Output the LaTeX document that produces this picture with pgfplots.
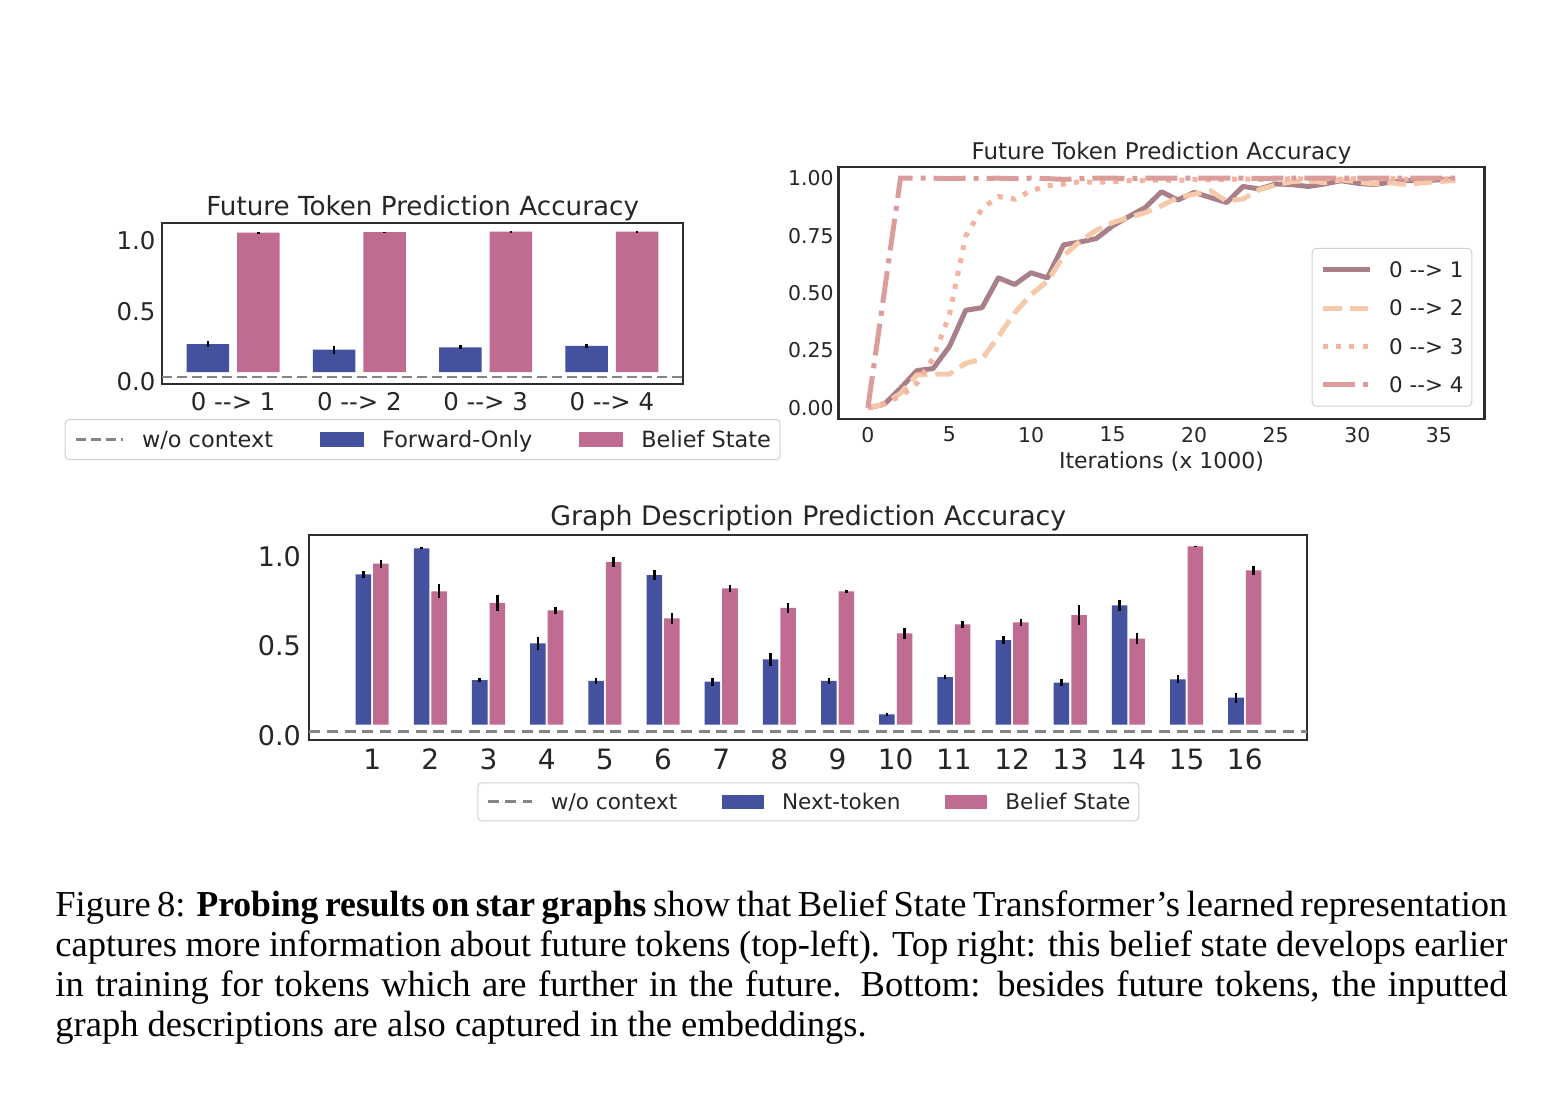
\documentclass[border=0pt]{standalone}
\usepackage{fontspec}
\setmainfont{DejaVu Sans}
\newfontfamily\capfont[BoldFeatures={FakeStretch=0.975}]{Liberation Serif}
\usepackage{pgfplots}
\usepackage{pgfplotstable}
\pgfplotsset{compat=1.18}

\definecolor{textc}{HTML}{262626}
\definecolor{framec}{HTML}{2E2E2E}
\definecolor{legc}{HTML}{D0D0D0}
\definecolor{ntblue}{HTML}{43519E}
\definecolor{bspink}{HTML}{C06B92}
\definecolor{ctxgray}{HTML}{858585}
\definecolor{lineA}{HTML}{A97F88}
\definecolor{lineB}{HTML}{F7C9AB}
\definecolor{lineC}{HTML}{F5B4A0}
\definecolor{lineD}{HTML}{DB9C9C}

% future-token probing, top left
\pgfplotstableread{
x   fo     foErr  bs     bsErr
0   0.199  0.024  0.991  0.003
1   0.159  0.028  0.996  0.002
2   0.176  0.013  0.999  0.003
3   0.187  0.016  0.999  0.003
}\futuretab

% accuracy over training, top right
\pgfplotstableread{
it  a      b      c      d
0   0.000  0.000  0.000  0.000
1   0.015  0.016  0.020  0.500
2   0.085  0.063  0.050  1.000
3   0.162  0.143  0.106  1.000
4   0.171  0.147  0.216  1.000
5   0.267  0.147  0.406  0.998
6   0.425  0.194  0.748  1.000
7   0.436  0.212  0.868  0.999
8   0.566  0.311  0.920  1.000
9   0.537  0.413  0.909  0.998
10  0.588  0.493  0.945  1.000
11  0.566  0.551  0.967  0.998
12  0.710  0.661  0.974  0.995
13  0.722  0.726  0.985  0.998
14  0.737  0.773  0.982  1.000
15  0.792  0.807  0.985  1.000
16  0.833  0.829  0.989  0.999
17  0.872  0.850  0.990  1.000
18  0.941  0.880  0.992  1.000
19  0.905  0.916  0.990  1.000
20  0.938  0.930  0.995  1.000
21  0.916  0.945  0.993  1.000
22  0.894  0.900  0.995  1.000
23  0.964  0.910  0.997  1.000
24  0.953  0.950  0.995  0.999
25  0.975  0.970  0.996  1.000
26  0.972  0.985  0.998  1.000
27  0.964  0.990  0.997  1.000
28  0.975  0.980  0.998  1.000
29  0.989  0.993  0.996  1.000
30  0.978  0.985  0.998  1.000
31  0.972  0.975  0.997  1.000
32  0.982  0.980  0.998  1.000
33  0.989  0.972  0.996  1.000
34  0.989  0.980  0.998  1.000
35  0.993  0.985  0.997  1.000
36  0.996  0.990  0.997  1.000
}\itertab

% graph description probing, bottom
\pgfplotstableread{
x   nt     ntErr  bs     bsErr
1   0.842  0.021  0.902  0.022
2   0.988  0.005  0.747  0.039
3   0.250  0.012  0.682  0.045
4   0.456  0.035  0.641  0.019
5   0.245  0.017  0.911  0.026
6   0.838  0.028  0.596  0.031
7   0.241  0.023  0.764  0.021
8   0.366  0.035  0.655  0.028
9   0.246  0.017  0.747  0.010
10  0.058  0.009  0.512  0.031
11  0.267  0.012  0.562  0.021
12  0.474  0.021  0.573  0.022
13  0.235  0.020  0.614  0.058
14  0.669  0.031  0.482  0.032
15  0.254  0.022  1.000  0.003
16  0.151  0.027  0.865  0.024
}\graphtab

\pgfplotsset{
  sbaxis/.style={
    scale only axis,
    axis line style={draw=framec, line width=1.1pt},
    major tick length=0pt,
    tick style={draw=none},
    clip=false,
  },
  errstyle/.style={
    error bars/.cd, y dir=both, y explicit,
    error mark=none,
    error bar style={black, line width=1.25pt},
  },
  legline/.style={legend image code/.code={\draw[##1, sharp corners] (0pt,0pt) -- (#1,0pt);}},
  legpatch/.style 2 args={legend image code/.code={\fill[##1, draw=none, sharp corners] (0pt,-#2) rectangle (#1,#2);}},
}

\newcommand{\arr}[2]{#1 -{}-> #2}

\begin{document}
\begin{tikzpicture}
\fill[white] (0,0) rectangle (782pt,-549pt);
\path[use as bounding box] (0,0) rectangle (782pt,-549pt);

% ---------- top left: future tokens, forward-only vs belief state ----------
\begin{axis}[sbaxis,
  at={(81.15pt,-192pt)}, anchor=south west,
  width=260.35pt, height=80.35pt,
  xmin=-0.562, xmax=3.564, ymin=-0.085, ymax=1.058,
  xtick={0,1,2,3},
  xticklabels={\arr{0}{1},\arr{0}{2},\arr{0}{3},\arr{0}{4}},
  ytick={0,0.5,1}, yticklabels={0.0,0.5,1.0},
  xticklabel style={anchor=north, inner sep=0pt, yshift=-3.85pt,
    font=\fontsize{12.2pt}{14pt}\selectfont, text=textc},
  yticklabel style={anchor=north east, inner sep=0pt, xshift=-3.25pt,
    font=\fontsize{12.2pt}{14pt}\selectfont, text=textc},
  title={Future Token Prediction Accuracy},
  title style={at={(0.5,1)}, anchor=base, yshift=-1.85pt, inner sep=0pt,
    font=\fontsize{13.1pt}{15pt}\selectfont, text=textc},
  legend columns=3,
  legend style={at={(0.5,-0.2178)}, anchor=north,
    draw=legc, line width=0.5pt, rounded corners=2pt, fill=white,
    inner xsep=4.6pt, inner ysep=5.9pt,
    font=\fontsize{11.2pt}{13pt}\selectfont, text=textc,
    nodes={inner sep=0pt, text height=8.2pt, text depth=0pt, anchor=west},
    /tikz/every odd column/.append style={column sep=9pt},
    /tikz/every even column/.append style={column sep=23.5pt}},
]
\addlegendimage{legline=23.5pt, ctxgray, line width=1.35pt, dash pattern=on 5pt off 2.5pt}
\addlegendimage{legpatch={22pt}{3.75pt}, fill=ntblue}
\addlegendimage{legpatch={22pt}{3.75pt}, fill=bspink}
\addplot[forget plot, ctxgray, line width=1.35pt, dash pattern=on 5pt off 2.5pt]
  coordinates {(-0.562,-0.036) (3.564,-0.036)};
\addplot[forget plot, ybar, bar width=0.337, bar shift=0, fill=ntblue, draw=none, errstyle]
  table[x expr=\thisrow{x}-0.2, y=fo, y error=foErr] {\futuretab};
\addplot[forget plot, ybar, bar width=0.337, bar shift=0, fill=bspink, draw=none, errstyle]
  table[x expr=\thisrow{x}+0.2, y=bs, y error=bsErr] {\futuretab};
\legend{w/o context, Forward-Only, Belief State}
\end{axis}

% ---------- top right: accuracy during training ----------
\begin{axis}[sbaxis,
  at={(419.25pt,-209.65pt)}, anchor=south west,
  width=323pt, height=126.3pt,
  xmin=-1.8, xmax=37.8, ymin=-0.05, ymax=1.05,
  xtick={0,5,10,15,20,25,30,35},
  xticklabels={0,5,10,15,20,25,30,35},
  ytick={0,0.25,0.5,0.75,1},
  yticklabels={0.00,0.25,0.50,0.75,1.00},
  xticklabel style={anchor=north, inner sep=0pt, yshift=-3.7pt,
    font=\fontsize{10.2pt}{12pt}\selectfont, text=textc},
  yticklabel style={anchor=east, inner sep=0pt, xshift=-2.3pt,
    font=\fontsize{10.2pt}{12pt}\selectfont, text=textc},
  title={Future Token Prediction Accuracy},
  title style={at={(0.5,1)}, anchor=base, yshift=-2.3pt, inner sep=0pt,
    font=\fontsize{11.5pt}{13pt}\selectfont, text=textc},
  xlabel={Iterations (x 1000)},
  xlabel style={at={(axis description cs:0.5,0)}, anchor=base, yshift=-24.5pt,
    inner sep=0pt, font=\fontsize{11pt}{13pt}\selectfont, text=textc},
  legend image code/.code={\draw[#1, sharp corners] (0pt,0pt) -- (23.5pt,0pt);},
  legend style={at={(0.9811,0.0499)}, anchor=south east,
    draw=legc, line width=0.5pt, rounded corners=2pt, fill=white,
    inner xsep=4.2pt, inner ysep=6.75pt, row sep=11.4pt,
    font=\fontsize{10.7pt}{12pt}\selectfont, text=textc,
    nodes={inner sep=0pt, text height=7.8pt, text depth=0pt, anchor=west},
    /tikz/every odd column/.append style={column sep=8.3pt}},
  legend cell align=left,
]
\addplot[lineA, line width=2.5pt, line join=round] table[x=it, y=a] {\itertab};
\addplot[lineB, line width=2.5pt, dash pattern=on 9.25pt off 4pt] table[x=it, y=b] {\itertab};
\addplot[lineC, line width=2.5pt, dash pattern=on 2.5pt off 4.1pt] table[x=it, y=c] {\itertab};
\addplot[lineD, line width=2.5pt, dash pattern=on 16pt off 4pt on 2.5pt off 4pt] table[x=it, y=d] {\itertab};
\legend{\arr{0}{1},\arr{0}{2},\arr{0}{3},\arr{0}{4}}
\end{axis}

% ---------- bottom: graph description tokens ----------
\begin{axis}[sbaxis,
  at={(154.65pt,-370pt)}, anchor=south west,
  width=499pt, height=102.5pt,
  xmin=-0.081, xmax=17.075, ymin=-0.086, ymax=1.063,
  xtick={1,...,16},
  xticklabels={1,2,3,4,5,6,7,8,9,10,11,12,13,14,15,16},
  ytick={0,0.5,1}, yticklabels={0.0,0.5,1.0},
  xticklabel style={anchor=north, inner sep=0pt, yshift=-4.15pt,
    font=\fontsize{14pt}{16pt}\selectfont, text=textc},
  yticklabel style={anchor=north east, inner sep=0pt, xshift=-4pt,
    font=\fontsize{13.5pt}{15pt}\selectfont, text=textc},
  title={Graph Description Prediction Accuracy},
  title style={at={(0.5,1)}, anchor=base, yshift=-1pt, inner sep=0pt,
    font=\fontsize{13.4pt}{15pt}\selectfont, text=textc},
  legend columns=3,
  legend style={at={(0.5,-0.2063)}, anchor=north,
    draw=legc, line width=0.5pt, rounded corners=2pt, fill=white,
    inner xsep=4.2pt, inner ysep=5.55pt,
    font=\fontsize{10.8pt}{12.5pt}\selectfont, text=textc,
    nodes={inner sep=0pt, text height=7.9pt, text depth=0pt, anchor=west},
    /tikz/every odd column/.append style={column sep=9pt},
    /tikz/every even column/.append style={column sep=22.2pt}},
]
\addlegendimage{legline=22pt, ctxgray, line width=1.35pt, dash pattern=on 5.5pt off 3.35pt}
\addlegendimage{legpatch={21.2pt}{3.35pt}, fill=ntblue}
\addlegendimage{legpatch={21.2pt}{3.35pt}, fill=bspink}
\addplot[forget plot, ctxgray, line width=1.35pt, dash pattern=on 5.5pt off 3.35pt]
  coordinates {(-0.081,-0.037) (17.075,-0.037)};
\addplot[forget plot, ybar, bar width=0.267, bar shift=0, fill=ntblue, draw=none, errstyle]
  table[x expr=\thisrow{x}-0.151, y=nt, y error=ntErr] {\graphtab};
\addplot[forget plot, ybar, bar width=0.267, bar shift=0, fill=bspink, draw=none, errstyle]
  table[x expr=\thisrow{x}+0.151, y=bs, y error=bsErr] {\graphtab};
\legend{w/o context, Next-token, Belief State}
\end{axis}

% ---------- caption ----------
\node[anchor=base west, inner sep=0pt] at (27.5pt,-458pt) {%
  \parbox[t]{726pt}{\capfont\fontsize{18.26pt}{20pt}\selectfont
  \spaceskip=0.25em plus 0.3em minus 0.11em
  \hbox to 726pt{Figure 8: \textbf{Probing results on star graphs} show that Belief State Transformer’s learned representation}
  \hbox to 726pt{captures more information about future tokens (top-left). Top right: this belief state develops earlier}
  \hbox to 726pt{in training for tokens which are further in the future. Bottom: besides future tokens, the inputted}
  \hbox{graph descriptions are also captured in the embeddings.}}};
\end{tikzpicture}
\end{document}
